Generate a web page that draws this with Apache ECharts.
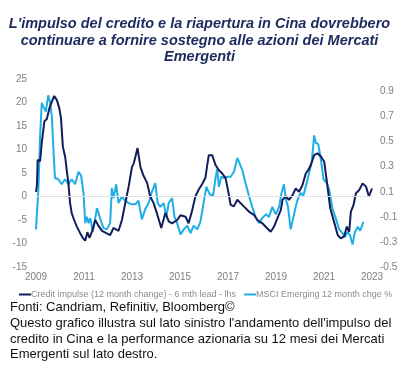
<!DOCTYPE html>
<html>
<head>
<meta charset="utf-8">
<script src="https://cdn.jsdelivr.net/npm/echarts@6/dist/echarts.min.js"></script>
<style>
html,body{margin:0;padding:0;background:#fff;}
#c{width:417px;height:378px;}
</style>
</head>
<body>
<div id="c"></div>
<script>
// Credit impulse (12 month change) - 6 mth lead - lhs
const creditDates = [2009.00,2009.04,2009.07,2009.17,2009.24,2009.35,2009.45,2009.56,2009.66,2009.76,2009.87,2009.97,2010.04,2010.12,2010.18,2010.22,2010.28,2010.35,2010.42,2010.49,2010.59,2010.70,2010.84,2010.95,2011.05,2011.14,2011.23,2011.33,2011.47,2011.60,2011.75,2011.93,2012.09,2012.23,2012.44,2012.58,2012.72,2012.86,2013.00,2013.07,2013.14,2013.23,2013.35,2013.48,2013.63,2013.76,2013.90,2014.04,2014.22,2014.39,2014.53,2014.67,2014.88,2015.02,2015.23,2015.36,2015.51,2015.64,2015.78,2015.92,2016.06,2016.13,2016.20,2016.34,2016.41,2016.48,2016.62,2016.76,2016.90,2017.04,2017.11,2017.24,2017.39,2017.52,2017.66,2017.87,2018.08,2018.22,2018.43,2018.64,2018.78,2018.92,2019.06,2019.20,2019.27,2019.41,2019.54,2019.69,2019.82,2019.96,2020.10,2020.24,2020.34,2020.45,2020.59,2020.73,2020.87,2021.01,2021.12,2021.26,2021.42,2021.57,2021.70,2021.84,2021.95,2022.05,2022.12,2022.23,2022.33,2022.47,2022.61,2022.75,2022.87,2022.94,2023.00];
const creditValues = [1.0,2.4,7.8,7.5,11.4,16.0,16.5,18.8,20.2,21.4,20.5,18.8,16.7,10.6,10.4,8.3,5.6,2.9,-1.4,-3.6,-5.0,-6.4,-7.8,-8.8,-9.4,-7.6,-8.8,-7.5,-5.0,-6.2,-7.3,-7.8,-8.2,-6.7,-7.3,-5.0,-1.4,2.1,6.3,7.0,8.4,10.3,6.3,4.4,2.9,0.0,-1.4,-3.6,-6.7,-3.5,-5.3,-5.7,-5.0,-4.0,-4.3,-5.7,-2.9,0.0,1.5,2.6,4.0,6.5,8.8,8.8,8.5,6.7,5.6,4.9,3.9,0.3,-1.8,-2.1,-0.7,-1.4,-2.1,-3.2,-3.9,-5.0,-5.7,-6.8,-7.5,-6.4,-4.6,-2.9,-0.7,0.0,-0.7,0.3,1.7,1.0,2.4,4.9,5.6,6.7,8.8,9.2,8.5,7.4,3.1,-2.5,-5.4,-8.2,-8.9,-8.5,-6.4,-7.5,-3.2,-1.8,0.7,1.4,2.8,2.1,0.0,-0.1,1.7];

// MSCI Emerging 12 month chge % (rhs)
const msciDates = [2009.00,2009.03,2009.10,2009.17,2009.24,2009.31,2009.41,2009.51,2009.59,2009.66,2009.72,2009.79,2009.93,2010.07,2010.21,2010.35,2010.49,2010.63,2010.77,2010.88,2010.98,2011.05,2011.12,2011.19,2011.26,2011.37,2011.54,2011.67,2011.81,2011.95,2012.09,2012.16,2012.23,2012.34,2012.44,2012.58,2012.72,2012.86,2013.00,2013.14,2013.27,2013.41,2013.55,2013.69,2013.83,2013.97,2014.07,2014.18,2014.32,2014.43,2014.53,2014.67,2014.77,2014.88,2015.02,2015.16,2015.30,2015.44,2015.57,2015.72,2015.85,2015.99,2016.10,2016.24,2016.38,2016.48,2016.55,2016.62,2016.72,2016.83,2016.97,2017.11,2017.25,2017.39,2017.45,2017.60,2017.73,2017.87,2018.01,2018.15,2018.29,2018.43,2018.57,2018.71,2018.85,2018.99,2019.13,2019.23,2019.33,2019.41,2019.50,2019.61,2019.73,2019.82,2019.92,2020.03,2020.14,2020.28,2020.38,2020.49,2020.59,2020.66,2020.76,2020.87,2020.98,2021.12,2021.21,2021.36,2021.49,2021.63,2021.77,2021.87,2021.98,2022.09,2022.19,2022.29,2022.40,2022.51,2022.64];
const msciValues = [-0.20,-0.10,0.12,0.54,0.81,0.78,0.74,0.87,0.81,0.70,0.46,0.21,0.20,0.16,0.20,0.16,0.20,0.16,0.26,0.23,0.09,-0.15,-0.10,-0.15,-0.11,-0.22,-0.03,-0.11,-0.19,-0.20,-0.15,0.13,0.05,0.16,0.01,0.06,0.03,0.01,0.00,0.00,0.03,-0.12,-0.04,0.01,0.10,0.17,0.01,-0.02,0.01,-0.10,0.01,0.05,-0.10,-0.15,-0.24,-0.20,-0.17,-0.23,-0.17,-0.20,-0.14,0.02,0.14,0.08,0.07,0.21,0.28,0.14,0.22,0.21,0.22,0.22,0.26,0.37,0.38,0.27,0.17,0.07,-0.02,-0.10,-0.15,-0.11,-0.08,-0.10,-0.02,-0.08,-0.02,0.09,0.16,0.04,-0.02,-0.20,-0.10,-0.02,0.05,0.09,0.07,0.17,0.25,0.34,0.55,0.49,0.48,0.36,0.20,0.17,0.12,-0.04,-0.11,-0.20,-0.23,-0.26,-0.22,-0.25,-0.32,-0.22,-0.18,-0.21,-0.14];

const xTicks = {min: 2009, max: 2023, step: 2};
const leftTicks = {min: -15, max: 25, step: 5};
const rightTicks = {min: -0.5, max: 1.0, step: 0.1};

const titleText = "L'impulso del credito e la riapertura in Cina dovrebbero\ncontinuare a fornire sostegno alle azioni dei Mercati\nEmergenti";
const seriesNames = ["Credit impulse (12 month change) - 6 mth lead - lhs", "MSCI Emerging 12 month chge %"];
const footerLines = [
  "Fonti: Candriam, Refinitiv, Bloomberg©",
  "Questo grafico illustra sul lato sinistro l'andamento dell'impulso del",
  "credito in Cina e la performance azionaria su 12 mesi dei Mercati",
  "Emergenti sul lato destro."
];

const FONT = "'Liberation Sans', Arial, sans-serif";
const DARK = '#121d5b';
const LIGHT = '#1eaee6';

const chart = echarts.init(document.getElementById('c'), null, {renderer: 'canvas'});
const pairs = (xs, ys) => xs.map((x, i) => [x, ys[i]]);

chart.setOption({
  animation: false,
  backgroundColor: '#fff',
  textStyle: {fontFamily: FONT},
  legend: {
    left: 14, top: 285,
    itemWidth: 12, itemHeight: 2, itemGap: 8,
    icon: 'rect',
    textStyle: {fontFamily: FONT, fontSize: 9, color: '#8c8c8c', padding: [0,0,0,-5]},
    data: seriesNames
  },
  grid: {left: 36, right: 45, top: 79, bottom: 378 - 267},
  xAxis: {
    type: 'value', min: xTicks.min, max: xTicks.max, interval: xTicks.step,
    axisLine: {show: false}, axisTick: {show: false}, splitLine: {show: false},
    axisLabel: {color: '#7f7f7f', fontSize: 10, margin: 5, formatter: v => String(v)}
  },
  yAxis: [
    {
      type: 'value', min: leftTicks.min, max: leftTicks.max, interval: leftTicks.step,
      axisLine: {show: false}, axisTick: {show: false}, splitLine: {show: false},
      axisLabel: {color: '#7f7f7f', fontSize: 10, margin: 9}
    },
    {
      type: 'value', position: 'right', min: rightTicks.min, max: rightTicks.max, interval: rightTicks.step,
      axisLine: {show: false}, axisTick: {show: false}, splitLine: {show: false},
      axisLabel: {color: '#7f7f7f', fontSize: 10, margin: 8,
        formatter: v => { const k = Math.round(v * 10); return (Math.abs(k) % 2 === 1) ? (k / 10).toFixed(1) : ''; }}
    }
  ],
  series: [
    {
      name: seriesNames[0], type: 'line', yAxisIndex: 0, z: 3,
      data: pairs(creditDates, creditValues),
      showSymbol: false, symbol: 'none',
      lineStyle: {color: DARK, width: 2}, itemStyle: {color: DARK},
      markLine: {silent: true, symbol: 'none', label: {show: false},
        lineStyle: {color: '#e0e0e0', width: 1, type: 'solid'}, data: [{yAxis: 0}]}
    },
    {
      name: seriesNames[1], type: 'line', yAxisIndex: 1, z: 2,
      data: pairs(msciDates, msciValues),
      showSymbol: false, symbol: 'none',
      lineStyle: {color: LIGHT, width: 2}, itemStyle: {color: LIGHT}
    }
  ],
  graphic: [{
    type: 'text', x: 199.5, y: 16,
    style: {text: titleText, align: 'center', verticalAlign: 'top',
      font: 'italic bold 14.5px ' + FONT, fill: '#1c2a5e', lineHeight: 16.5}
  }].concat(footerLines.map((t, i) => ({
    type: 'text', left: 10, top: (i === 0 ? 301 : 317 + (i - 1) * 15.5),
    style: {text: t, font: '13px ' + FONT, fill: '#111'}
  })))
});
</script>
</body>
</html>
